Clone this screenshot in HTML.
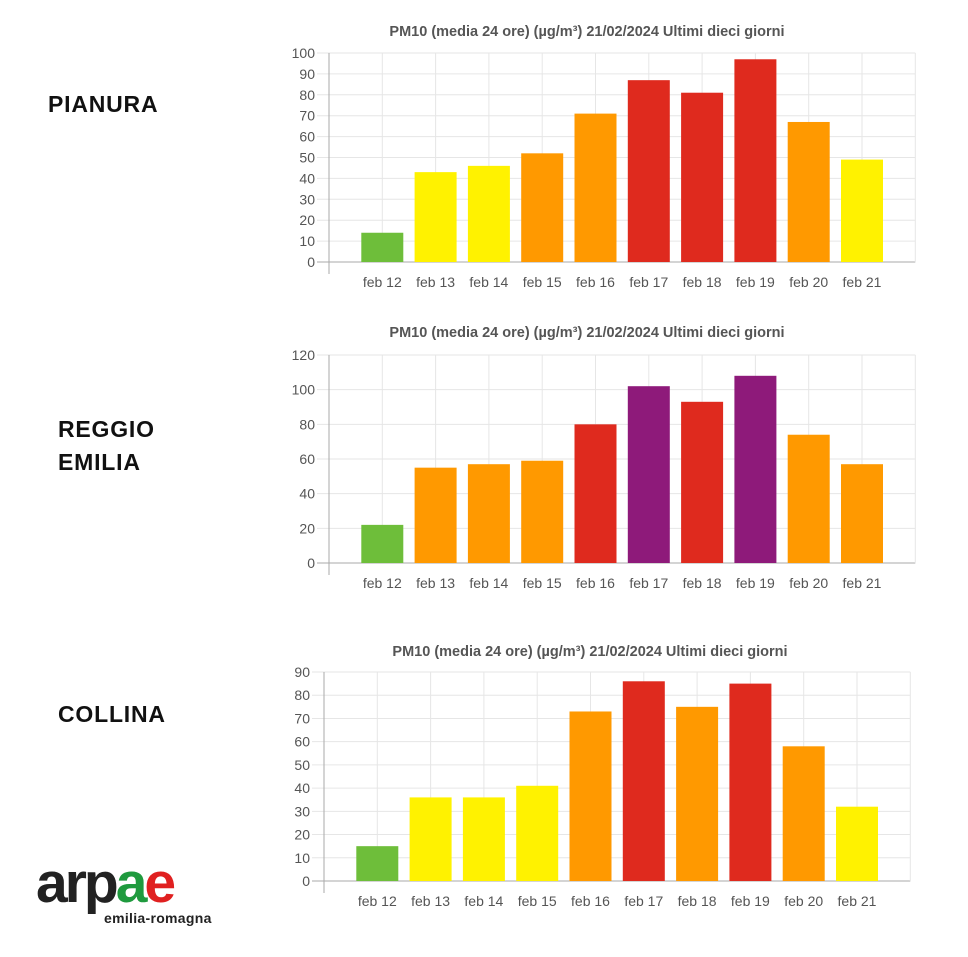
<!DOCTYPE html>
<html><head><meta charset="utf-8"><style>
body{margin:0;background:#fff;width:968px;height:957px;overflow:hidden;position:relative;font-family:"Liberation Sans",sans-serif}
.lbl{position:absolute;font-weight:bold;font-size:23px;color:#111;letter-spacing:0.8px}
</style></head><body>
<div class="lbl" style="left:48px;top:91px">PIANURA</div>
<div class="lbl" style="left:58px;top:413px;line-height:33px">REGGIO<br>EMILIA</div>
<div class="lbl" style="left:58px;top:701px">COLLINA</div>
<div style="position:absolute;left:36px;top:856px;font-weight:bold;font-size:57px;letter-spacing:-3px;line-height:54px"><span style="color:#222">arp</span><span style="color:#1f9a3e">a</span><span style="color:#e02020">e</span></div>
<div style="position:absolute;left:104px;top:910px;font-weight:bold;font-size:14px;color:#222;letter-spacing:0.3px">emilia-romagna</div>
<svg id="s" width="968" height="957" style="position:absolute;left:0;top:0" xmlns="http://www.w3.org/2000/svg"></svg>
<script>
const G='#6ebe3a',Y='#fff200',O='#ff9900',R='#df2a1e',P='#8e1a7a';
const charts=[
{ax:329,top:53,bot:262,max:100,step:10,ty:31,tx:587,v:[14,43,46,52,71,87,81,97,67,49],c:[G,Y,Y,O,O,R,R,R,O,Y]},
{ax:329,top:355,bot:563,max:120,step:20,ty:332,tx:587,v:[22,55,57,59,80,102,93,108,74,57],c:[G,O,O,O,R,P,R,P,O,O]},
{ax:324,top:672,bot:881,max:90,step:10,ty:651,tx:590,v:[15,36,36,41,73,86,75,85,58,32],c:[G,Y,Y,Y,O,R,O,R,O,Y]}];
let h='';
for(const ch of charts){
 const w=53.3,right=ch.ax+11*w;
 h+=`<text x="${ch.tx}" y="${ch.ty+5}" font-size="14.5" font-weight="bold" fill="#555" text-anchor="middle">PM10 (media 24 ore) (µg/m³) 21/02/2024 Ultimi dieci giorni</text>`;
 for(let t=0;t<=ch.max;t+=ch.step){const y=ch.bot-(ch.bot-ch.top)*t/ch.max;
  h+=`<line x1="${ch.ax-12}" x2="${right}" y1="${y}" y2="${y}" stroke="${t?'#e6e6e6':'#aaa'}" stroke-width="1"/>`;
  h+=`<text x="${ch.ax-14}" y="${y+5}" font-size="14" fill="#555" text-anchor="end">${t}</text>`;}
 for(let i=0;i<=10;i++){const x=ch.ax+i*w;h+=`<line x1="${x}" x2="${x}" y1="${ch.top}" y2="${ch.bot+(i?0:12)}" stroke="${i?'#e6e6e6':'#aaa'}"/>`;}
 h+=`<line x1="${right}" x2="${right}" y1="${ch.top}" y2="${ch.bot}" stroke="#e6e6e6"/>`;
 ch.v.forEach((v,i)=>{const cx=ch.ax+(i+1)*w,y=ch.bot-(ch.bot-ch.top)*v/ch.max;
  h+=`<rect x="${cx-21}" y="${y}" width="42" height="${ch.bot-y}" fill="${ch.c[i]}"/>`;
  h+=`<text x="${cx}" y="${ch.bot+25}" font-size="14" fill="#555" text-anchor="middle">feb ${12+i}</text>`;});
}
document.getElementById('s').innerHTML=h;
</script>
</body></html>
